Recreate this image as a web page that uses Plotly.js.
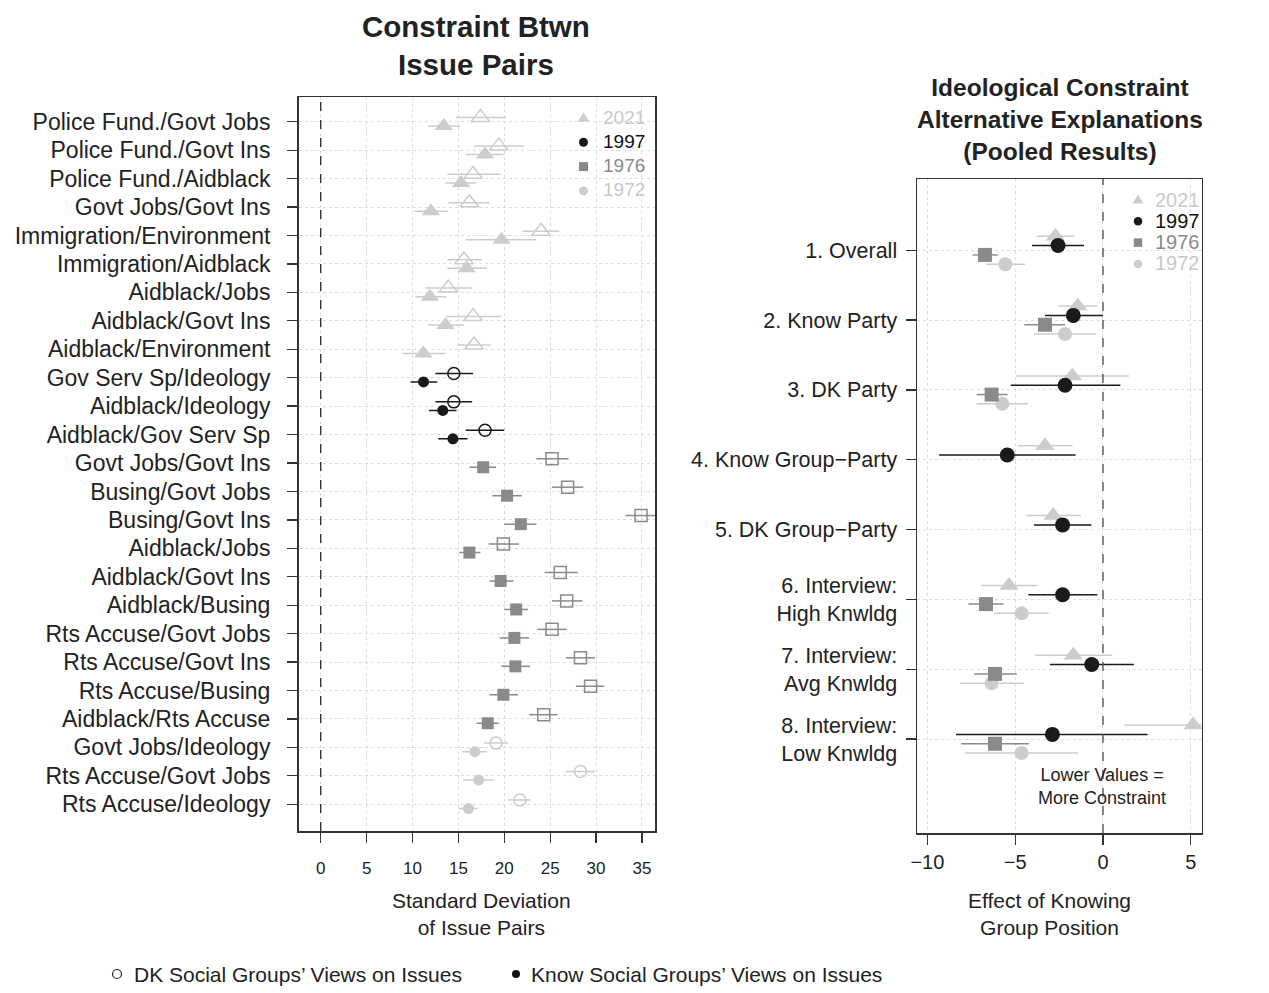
<!DOCTYPE html>
<html><head><meta charset="utf-8">
<script src="https://cdn.plot.ly/plotly-3.0.1.min.js"></script>
<style>html,body{margin:0;padding:0;background:#fff}</style>
</head><body><div id="chart" style="width:1269px;height:993px"></div>
<script>
// ---------- Left panel data: issue pairs ----------
const pairLabels = ['Police Fund./Govt Jobs','Police Fund./Govt Ins','Police Fund./Aidblack','Govt Jobs/Govt Ins',
  'Immigration/Environment','Immigration/Aidblack','Aidblack/Jobs','Aidblack/Govt Ins','Aidblack/Environment',
  'Gov Serv Sp/Ideology','Aidblack/Ideology','Aidblack/Gov Serv Sp',
  'Govt Jobs/Govt Ins','Busing/Govt Jobs','Busing/Govt Ins','Aidblack/Jobs','Aidblack/Govt Ins','Aidblack/Busing',
  'Rts Accuse/Govt Jobs','Rts Accuse/Govt Ins','Rts Accuse/Busing','Aidblack/Rts Accuse',
  'Govt Jobs/Ideology','Rts Accuse/Govt Jobs','Rts Accuse/Ideology'];
const pairYear = ['2021','2021','2021','2021','2021','2021','2021','2021','2021',
  '1997','1997','1997',
  '1976','1976','1976','1976','1976','1976','1976','1976','1976','1976',
  '1972','1972','1972'];
const dkMean   = [17.4,19.4,16.6,16.2,24.0,15.6,13.9,16.6,16.7,14.5,14.5,17.9,25.2,26.9,34.9,19.9,26.1,26.8,25.2,28.3,29.4,24.3,19.1,28.3,21.7];
const dkLo     = [14.7,16.7,13.8,13.9,22.0,13.8,11.4,13.7,14.9,12.5,12.5,15.8,23.5,25.2,33.2,18.3,24.4,25.2,23.6,26.7,27.8,22.7,17.8,26.7,20.4];
const dkHi     = [20.2,22.2,19.6,18.4,26.0,17.6,16.5,19.6,18.5,16.6,16.5,20.0,27.0,28.6,36.8,21.6,28.0,28.5,26.8,29.9,30.9,25.8,20.4,29.9,22.9];
const knowMean = [13.4,17.9,15.3,12.0,19.7,15.9,11.9,13.6,11.2,11.2,13.3,14.4,17.7,20.3,21.8,16.2,19.6,21.3,21.1,21.2,19.9,18.2,16.8,17.2,16.1];
const knowLo   = [11.7,15.8,13.6,10.2,15.8,13.8,10.3,11.7,8.9,9.8,11.8,12.8,16.2,18.7,20.0,15.1,18.4,20.0,19.5,19.7,18.4,17.0,15.4,15.5,15.0];
const knowHi   = [15.2,19.9,16.9,13.9,23.5,18.1,13.7,15.6,13.6,12.7,14.8,16.0,19.1,21.9,23.5,17.4,21.0,22.6,22.7,22.8,21.5,19.4,18.1,18.9,17.1];
const leftTicks = [0,5,10,15,20,25,30,35];

// ---------- Right panel data: alternative explanations ----------
const altLabels = ['1. Overall','2. Know Party','3. DK Party','4. Know Group\u2212Party','5. DK Group\u2212Party',
  '6. Interview:<br>High Knwldg','7. Interview:<br>Avg Knwldg','8. Interview:<br>Low Knwldg'];
const alt2021   = [-2.71,-1.44,-1.75,-3.30,-2.83,-5.35,-1.69,5.14];
const alt2021Lo = [-3.78,-2.52,-4.95,-4.86,-4.38,-6.94,-3.87,1.20];
const alt2021Hi = [-1.63,-0.32,1.48,-1.73,-1.25,-3.74,0.53,9.16];
const alt1997   = [-2.56,-1.69,-2.16,-5.45,-2.30,-2.30,-0.64,-2.88];
const alt1997Lo = [-4.04,-3.30,-5.25,-9.33,-3.93,-4.25,-3.02,-8.37];
const alt1997Hi = [-1.08,0.00,0.99,-1.56,-0.66,-0.32,1.76,2.54];
const alt1976   = [-6.72,-3.30,-6.34,null,null,-6.66,-6.15,-6.15];
const alt1976Lo = [-7.42,-4.48,-7.19,null,null,-7.66,-7.34,-8.08];
const alt1976Hi = [-5.99,-2.16,-5.43,null,null,-5.67,-4.91,-4.21];
const alt1972   = [-5.56,-2.16,-5.73,null,null,-4.63,-6.34,-4.63];
const alt1972Lo = [-6.66,-3.93,-7.19,null,null,-6.19,-8.14,-7.85];
const alt1972Hi = [-4.44,-0.36,-4.25,null,null,-3.09,-4.50,-1.41];
const rightTicks = [-10,-5,0,5];
const years = ['2021','1997','1976','1972'];

// ---------- styling ----------
const W = 1269, H = 993;
const FONT = 'Liberation Sans, Arial, Helvetica, sans-serif';
const TXT = '#222222';
const sty = {
  '2021': {color:'#cccccc', fill:'triangle-up', open:'triangle-up-open', sf:16, so:16, rs:17, key:'tri'},
  '1997': {color:'#1a1a1a', fill:'circle', open:'circle-open', sf:11, so:12, rs:15, key:'circle'},
  '1976': {color:'#8a8a8a', fill:'square', open:'square-open', sf:12, so:12, rs:14, key:'square'},
  '1972': {color:'#cccccc', fill:'circle', open:'circle-open', sf:11, so:12, rs:14, key:'circle'}
};
const legCols = {'2021':'#c8c8c8','1997':'#111111','1976':'#8a8a8a','1972':'#c8c8c8'};
const px = (x) => x / W;
const py = (y) => 1 - y / H;

const traces = [];
const nL = pairLabels.length;
const rowPosL = pairLabels.map((_, i) => nL - i);

function errArr(mean, lo, hi){
  return {
    type:'data', symmetric:false,
    array: mean.map((m,i)=> (m==null||hi[i]==null)? null : hi[i]-m),
    arrayminus: mean.map((m,i)=> (m==null||lo[i]==null)? null : m-lo[i])
  };
}

years.forEach(yr => {
  const idx = pairYear.map((y,i)=> y===yr ? i : -1).filter(i=>i>=0);
  const s = sty[yr];
  const pick = (a) => idx.map(i=>a[i]);
  traces.push({
    type:'scatter', mode:'markers', xaxis:'x', yaxis:'y', showlegend:false, cliponaxis:false,
    x: pick(dkMean), y: idx.map(i=>rowPosL[i]+0.15),
    error_x: Object.assign(errArr(pick(dkMean), pick(dkLo), pick(dkHi)), {color:s.color, thickness:1.5, width:0}),
    marker:{symbol:s.open, size:s.so, color:s.color, line:{color:s.color, width:1.5}}
  });
  traces.push({
    type:'scatter', mode:'markers', xaxis:'x', yaxis:'y', showlegend:false, cliponaxis:false,
    x: pick(knowMean), y: idx.map(i=>rowPosL[i]-0.15),
    error_x: Object.assign(errArr(pick(knowMean), pick(knowLo), pick(knowHi)), {color:s.color, thickness:1.5, width:0}),
    marker:{symbol:s.fill, size:s.sf, color:s.color, line:{width:0}}
  });
});

const nR = altLabels.length;
const rowPosR = altLabels.map((_, i) => nR - i);
const altSeries = {
  '2021':[alt2021,alt2021Lo,alt2021Hi, 0.2],
  '1997':[alt1997,alt1997Lo,alt1997Hi, 0.067],
  '1976':[alt1976,alt1976Lo,alt1976Hi, -0.067],
  '1972':[alt1972,alt1972Lo,alt1972Hi, -0.2]
};
['1972','1976','2021','1997'].forEach(yr => {
  const [m, lo, hi, off] = altSeries[yr];
  const s = sty[yr];
  traces.push({
    type:'scatter', mode:'markers', xaxis:'x2', yaxis:'y2', showlegend:false, cliponaxis:false,
    x: m, y: rowPosR.map(r=>r+off),
    error_x: Object.assign(errArr(m, lo, hi), {color:s.color, thickness:1.5, width:0}),
    marker:{symbol:s.fill, size:s.rs, color:s.color, line:{width:0}}
  });
});

const axBase = {
  showline:true, mirror:true, linecolor:'#333333', linewidth:1.5,
  ticks:'outside', ticklen:10, tickwidth:1.3, tickcolor:'#333333',
  showgrid:true, gridcolor:'#dcdcdc', griddash:'dot', gridwidth:1,
  zeroline:false, automargin:false, fixedrange:true
};

const ann = [];
function addText(text, x, y, size, opts){
  ann.push(Object.assign({text, xref:'paper', yref:'paper', x:px(x), y:py(y), showarrow:false,
    xanchor:'center', yanchor:'middle', font:{family:FONT, size, color:TXT}}, opts||{}));
}
addText('<b>Constraint Btwn<br>Issue Pairs</b>', 476, 46, 29.5);
addText('<b>Ideological Constraint<br>Alternative Explanations<br>(Pooled Results)</b>', 1060, 119.5, 24.5);
addText('Standard Deviation<br>of Issue Pairs', 481, 913.5, 21);
addText('Effect of Knowing<br>Group Position', 1049, 913.5, 21);
addText('Lower Values =<br>More Constraint', 1102, 786, 18);

// legend texts (one block per panel, per-line colours)
const legLines = (fs) => years.map(yr => '<span style="color:' + legCols[yr] + ';font-size:' + fs + 'px">' + yr + '</span>').join('<br>');
addText(legLines(19), 601, 154, 18.46, {xanchor:'left'});
addText(legLines(20), 1153, 231.5, 16.15, {xanchor:'left'});
// bottom legend
addText('DK Social Groups\u2019 Views on Issues', 132, 974, 21, {xanchor:'left'});
addText('Know Social Groups\u2019 Views on Issues', 529, 974, 21, {xanchor:'left'});

// legend keys drawn as shapes in page coordinates
const shapes = [
  {type:'line', xref:'x', yref:'y domain', x0:0, x1:0, y0:0, y1:1, line:{color:'#333333', width:1.4, dash:'dash'}},
  {type:'line', xref:'x2', yref:'y2 domain', x0:0, x1:0, y0:0, y1:1, line:{color:'#555555', width:1.4, dash:'dash'}}
];
function keyShape(kind, cx, cy, sz, color, open){
  const base = {xref:'paper', yref:'paper', layer:'above'};
  if(kind === 'tri'){
    const hw = sz/2;
    return Object.assign(base, {type:'path',
      path:'M'+px(cx-hw)+','+py(cy+hw*0.62)+' L'+px(cx+hw)+','+py(cy+hw*0.62)+' L'+px(cx)+','+py(cy-hw*1.0)+' Z',
      fillcolor:color, line:{width:0}});
  }
  const r = sz/2;
  return Object.assign(base, {type: kind==='square' ? 'rect' : 'circle',
    x0:px(cx-r), x1:px(cx+r), y0:py(cy+r), y1:py(cy-r),
    fillcolor: open ? 'rgba(0,0,0,0)' : color, line:{color:color, width: open ? 1.2 : 0}});
}
years.forEach((yr,k) => {
  const s = sty[yr];
  shapes.push(keyShape(s.key, 583.5, 118 + 24.3*k, s.key==='tri' ? 11.5 : 9, s.color, false));
  shapes.push(keyShape(s.key, 1138, 200 + 21.3*k, s.key==='tri' ? 11 : 8.5, s.color, false));
});
shapes.push(keyShape('circle', 117, 974, 9, '#222222', true));
shapes.push(keyShape('circle', 516, 974, 8, '#111111', false));

const layout = {
  width:W, height:H, autosize:false,
  margin:{l:0,r:0,t:0,b:0,pad:0},
  paper_bgcolor:'#ffffff', plot_bgcolor:'#ffffff',
  font:{family:FONT, color:TXT},
  showlegend:false,
  xaxis: Object.assign({}, axBase, {
    domain:[px(298.5), px(655)], range:[-2.42, 36.42],
    tickvals:leftTicks, ticktext:leftTicks.map(String), ticklabelstandoff:11,
    tickfont:{family:FONT, size:17, color:TXT}, anchor:'y'
  }),
  yaxis: Object.assign({}, axBase, {
    domain:[py(831), py(97)], range:[0.06, 25.87],
    tickvals:rowPosL, ticktext:pairLabels, ticklabelstandoff:12,
    tickfont:{family:FONT, size:23, color:TXT}, anchor:'x'
  }),
  xaxis2: Object.assign({}, axBase, {
    domain:[px(917), px(1201.5)], range:[-10.59, 5.61],
    tickvals:rightTicks, ticktext:rightTicks.map(v=> v<0 ? '\u2212'+Math.abs(v) : String(v)),
    tickfont:{family:FONT, size:20, color:TXT}, anchor:'y2'
  }),
  yaxis2: Object.assign({}, axBase, {
    domain:[py(833), py(179)], range:[-0.345, 9.02],
    tickvals:rowPosR, ticktext:altLabels, ticklabelstandoff:4,
    tickfont:{family:FONT, size:21.5, color:TXT}, anchor:'x2'
  }),
  shapes: shapes,
  annotations: ann
};

Plotly.newPlot('chart', traces, layout, {displayModeBar:false, staticPlot:true});
</script>
</body></html>
